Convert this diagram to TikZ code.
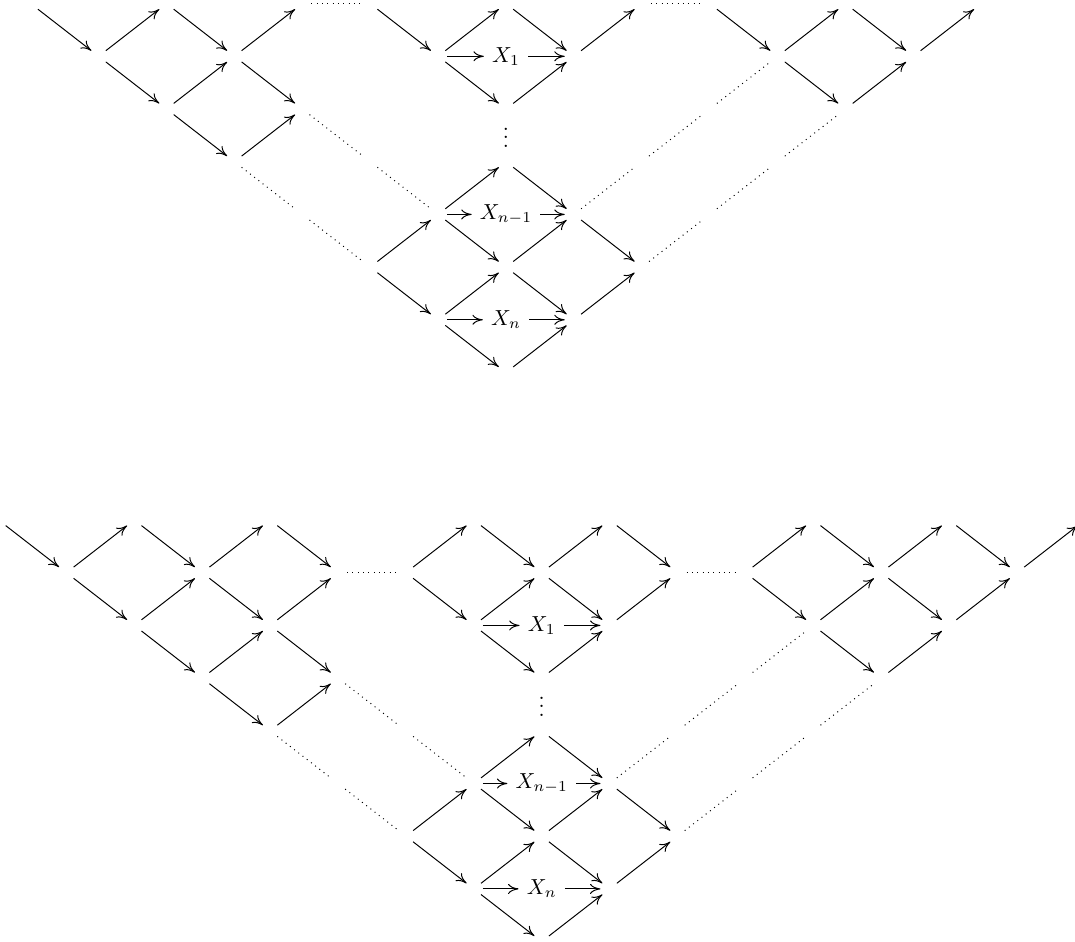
\documentclass[tikz,border=0pt]{standalone}
\usetikzlibrary{arrows.meta, calc}
\tikzset{
  lbl/.style={rectangle, inner sep=3.6pt},
  arr/.style={-{Computer Modern Rightarrow[length=4.8pt, width=4.6pt]}, line width=0.45pt,
              shorten <=4.2pt, shorten >=4.2pt},
  toarr/.style={arr, shorten >=0pt},
  fromarr/.style={arr, shorten <=0pt},
  dotline/.style={dotted, line width=0.45pt, shorten <=4.2pt, shorten >=4.2pt},
}
\begin{document}
\begin{tikzpicture}[x=0.46pt, y=-0.46pt]
  \useasboundingbox (0,0) rectangle (1075,941);
  % upper quiver: empty vertices
  \foreach \c in {0,...,14}
    \foreach \r in {0,...,7}
      \coordinate (t-\c-\r) at ({30.7+67.9*\c},{3.6+52.7*\r});
  % lower quiver: empty vertices
  \foreach \c in {0,...,16}
    \foreach \r in {0,...,8}
      \coordinate (b-\c-\r) at ({-1.5+67.9*\c},{520+52.7*\r});

  % upper quiver
  \node[lbl] (t-x1) at (t-7-1) {$X_1$};
  \node[lbl] (t-xm) at (t-7-4) {$X_{n-1}$};
  \node[lbl] (t-xn) at (t-7-6) {$X_n$};
  \node (t-vd) at ($(t-7-2)!0.42!(t-7-3)$) {$\vdots$};
  \foreach \a/\b in {0-0/1-1, 1-1/2-0, 2-0/3-1, 3-1/4-0,
      1-1/2-2, 2-2/3-1, 3-1/4-2, 2-2/3-3, 3-3/4-2,
      5-0/6-1, 6-1/7-0, 7-0/8-1, 8-1/9-0, 6-1/7-2, 7-2/8-1,
      5-5/6-4, 6-4/7-3, 7-3/8-4, 6-4/7-5, 7-5/8-4, 8-4/9-5,
      5-5/6-6, 6-6/7-5, 7-5/8-6, 8-6/9-5, 6-6/7-7, 7-7/8-6,
      10-0/11-1, 11-1/12-0, 12-0/13-1, 13-1/14-0, 11-1/12-2, 12-2/13-1}
    \draw[arr] (t-\a) -- (t-\b);
  \foreach \a/\b in {4-0/5-0, 9-0/10-0, 4-2/5-3, 5-3/6-4, 3-3/4-4, 4-4/5-5,
      8-4/9-3, 9-3/10-2, 10-2/11-1, 9-5/10-4, 10-4/11-3, 11-3/12-2}
    \draw[dotline] (t-\a) -- (t-\b);
  \draw[toarr] (t-6-1) -- (t-x1);
  \draw[fromarr] (t-x1) -- (t-8-1);
  \draw[toarr] (t-6-4) -- (t-xm);
  \draw[fromarr] (t-xm) -- (t-8-4);
  \draw[toarr] (t-6-6) -- (t-xn);
  \draw[fromarr] (t-xn) -- (t-8-6);

  % lower quiver
  \node[lbl] (b-x1) at (b-8-2) {$X_1$};
  \node[lbl] (b-xm) at (b-8-5) {$X_{n-1}$};
  \node[lbl] (b-xn) at (b-8-7) {$X_n$};
  \node (b-vd) at ($(b-8-3)!0.42!(b-8-4)$) {$\vdots$};
  \foreach \a/\b in {0-0/1-1, 1-1/2-0, 2-0/3-1, 3-1/4-0, 4-0/5-1,
      1-1/2-2, 2-2/3-1, 3-1/4-2, 4-2/5-1,
      2-2/3-3, 3-3/4-2, 4-2/5-3, 3-3/4-4, 4-4/5-3,
      6-1/7-0, 7-0/8-1, 8-1/9-0, 9-0/10-1,
      6-1/7-2, 7-2/8-1, 8-1/9-2, 9-2/10-1, 7-2/8-3, 8-3/9-2,
      7-5/8-4, 8-4/9-5, 7-5/8-6, 8-6/9-5, 9-5/10-6,
      6-6/7-5, 6-6/7-7, 7-7/8-6, 8-6/9-7, 9-7/10-6, 7-7/8-8, 8-8/9-7,
      11-1/12-0, 12-0/13-1, 13-1/14-0, 14-0/15-1, 15-1/16-0,
      11-1/12-2, 12-2/13-1, 13-1/14-2, 14-2/15-1, 12-2/13-3, 13-3/14-2}
    \draw[arr] (b-\a) -- (b-\b);
  \foreach \a/\b in {5-1/6-1, 10-1/11-1, 5-3/6-4, 6-4/7-5, 4-4/5-5, 5-5/6-6,
      9-5/10-4, 10-4/11-3, 11-3/12-2, 10-6/11-5, 11-5/12-4, 12-4/13-3}
    \draw[dotline] (b-\a) -- (b-\b);
  \draw[toarr] (b-7-2) -- (b-x1);
  \draw[fromarr] (b-x1) -- (b-9-2);
  \draw[toarr] (b-7-5) -- (b-xm);
  \draw[fromarr] (b-xm) -- (b-9-5);
  \draw[toarr] (b-7-7) -- (b-xn);
  \draw[fromarr] (b-xn) -- (b-9-7);
\end{tikzpicture}
\end{document}
